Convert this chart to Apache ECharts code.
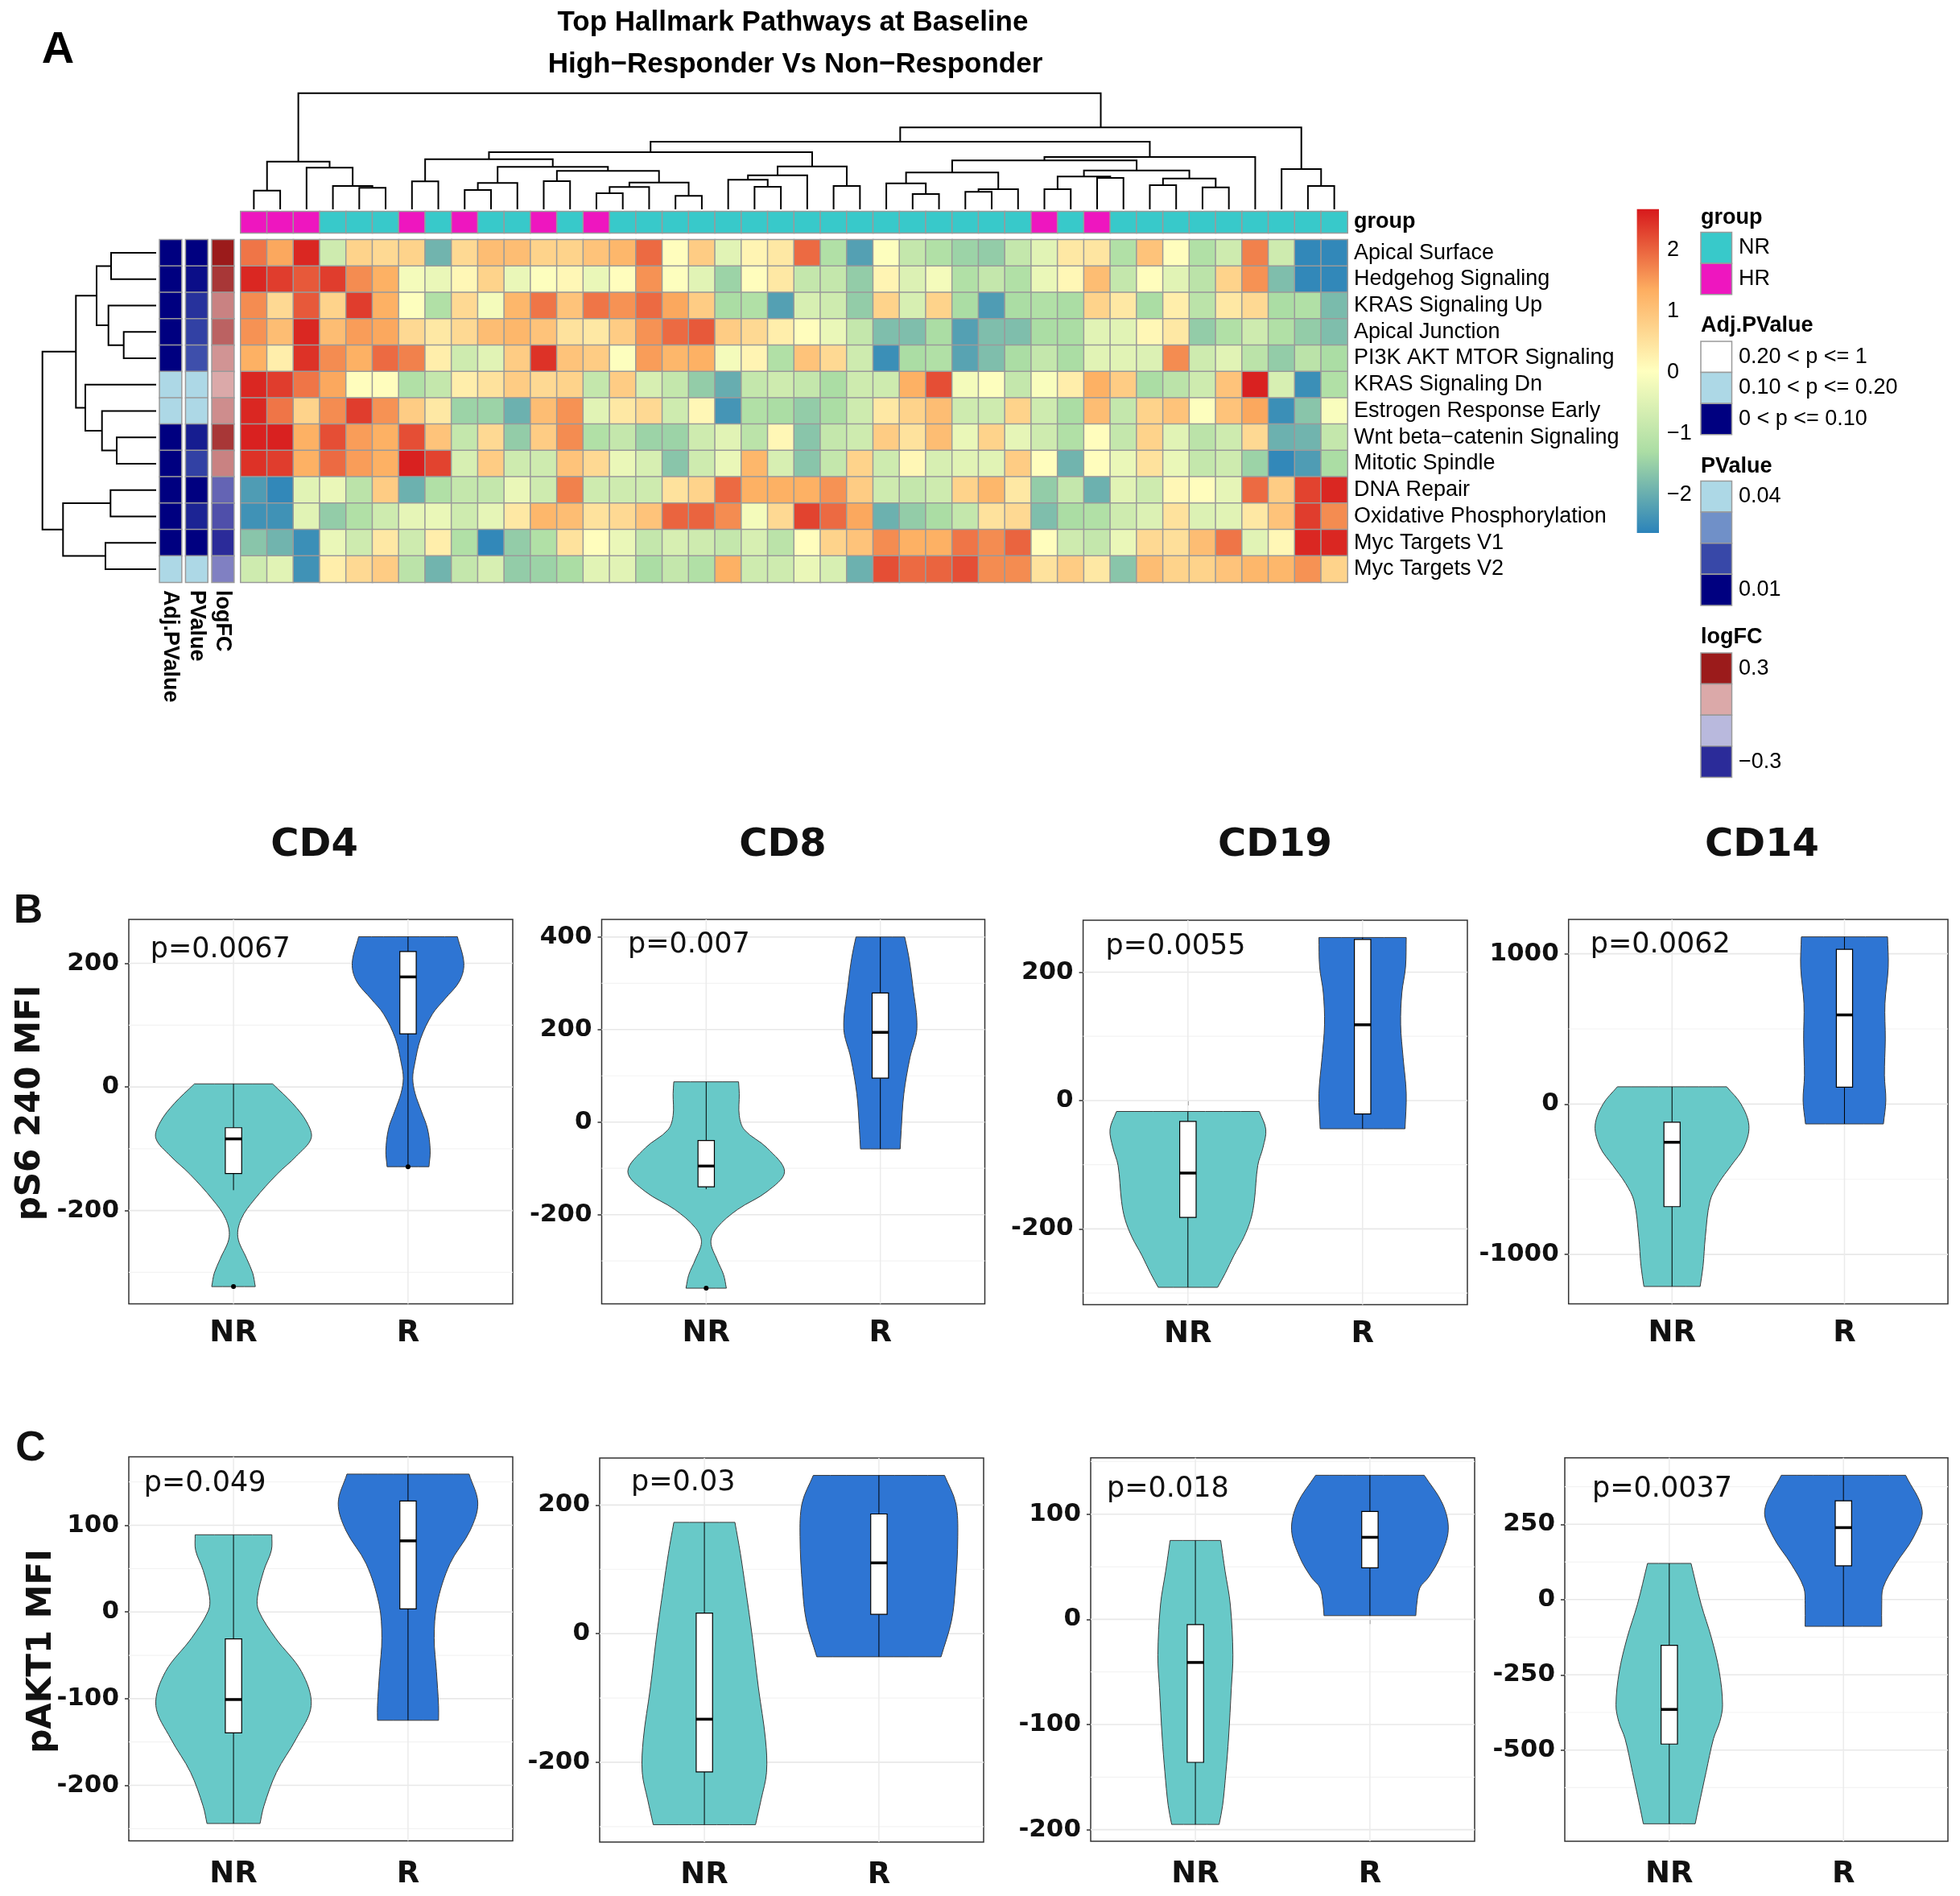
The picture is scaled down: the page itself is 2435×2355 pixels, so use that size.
<!DOCTYPE html>
<html><head><meta charset="utf-8">
<style>html,body{margin:0;padding:0;background:#fff}#c{width:2435px;height:2355px}</style>
<script src="https://cdn.jsdelivr.net/npm/echarts@6/dist/echarts.min.js"></script>
</head><body><div id="c"></div>
<script>
// ---------------- DATA ----------------
const pathways = ['Apical Surface','Hedgehog Signaling','KRAS Signaling Up','Apical Junction','PI3K AKT MTOR Signaling','KRAS Signaling Dn','Estrogen Response Early','Wnt beta\u2212catenin Signaling','Mitotic Spindle','DNA Repair','Oxidative Phosphorylation','Myc Targets V1','Myc Targets V2'];
const sampleIds = Array.from({length:42},(_,i)=>'S'+(i+1));
const sampleGroups = ['HR','HR','HR','NR','NR','NR','HR','NR','HR','NR','NR','HR','NR','HR',
 'NR','NR','NR','NR','NR','NR','NR','NR','NR','NR','NR','NR','NR','NR','NR','NR',
 'HR','NR','HR','NR','NR','NR','NR','NR','NR','NR','NR','NR'];
const scores = [
 [1.85,1.4,2.55,-0.75,0.75,0.65,0.75,-1.9,0.65,1.1,1.1,0.75,0.75,1.0, 1.2,1.95,0.05,0.85,-0.45,0.2,0.4,1.95,-1.2,-2.2,0.0,-0.9,-1.2,-1.45, -1.55,-0.9,-0.45,0.4,0.45,-1.2,1.0,0.05,-1.2,-0.75,1.75,-0.75,-2.55,-2.55],
 [2.55,2.35,2.1,2.35,1.65,1.3,-0.15,-0.3,0.15,0.75,-0.3,0.0,0.15,-0.3, 0.05,1.6,0.0,-0.45,-1.45,0.05,0.4,-0.9,-0.9,-1.55,0.2,-0.52,-0.15,-1.2, -0.9,-1.2,-0.3,0.15,1.1,-0.9,0.05,-0.45,-1.05,0.75,1.6,-1.75,-2.55,-2.55],
 [1.65,0.65,2.1,0.75,2.35,1.3,0.0,-1.2,0.65,-0.15,1.2,1.85,1.0,1.85, 1.6,1.95,1.4,0.85,-1.3,-1.2,-2.2,-0.6,-0.75,-1.55,0.75,-0.6,0.75,-1.3, -2.25,-1.3,-1.2,-1.3,0.75,0.4,-1.3,0.3,-1.05,0.4,0.65,-1.3,-1.2,-1.8],
 [1.6,1.1,2.55,1.1,1.5,1.4,0.65,0.4,0.65,1.1,1.2,1.0,0.5,0.4, 0.85,1.6,1.95,2.1,0.85,0.65,0.3,0.05,-0.3,-0.9,-1.75,-1.75,-1.3,-2.2, -1.75,-1.75,-1.3,-1.3,-0.45,-0.45,0.15,0.4,-1.55,-1.2,-0.75,-1.2,-1.55,-1.75],
 [1.3,0.3,2.45,1.65,1.3,1.95,1.75,0.3,-0.75,-0.45,0.85,2.45,1.0,0.85, 0.0,1.5,1.2,1.3,-0.15,0.2,-1.2,1.0,0.65,-0.75,-2.45,-1.3,-1.2,-2.15, -1.75,-1.3,-0.9,-1.3,-0.45,-0.45,-0.52,1.65,-0.75,-0.45,-1.05,-1.55,-1.05,-1.3],
 [2.55,2.35,1.85,1.4,0.05,0.05,-1.2,-0.9,0.3,0.5,0.85,0.65,0.75,-0.9, 0.85,-0.6,-0.9,-1.55,-2.0,-0.9,-0.75,-0.9,-1.3,-0.75,-0.75,1.3,2.2,-0.15, 0.0,-0.9,-0.07,0.3,1.3,0.85,-1.3,-1.05,-0.75,1.0,2.6,-0.6,-2.45,-1.2],
 [2.55,1.85,0.75,1.65,2.35,1.6,0.85,0.4,-1.45,-1.45,-1.95,1.1,1.6,-0.45, 0.4,0.65,-0.75,0.15,-2.35,-1.2,-1.3,-1.55,-1.3,-0.75,0.4,0.75,1.1,-0.75, -0.75,0.75,-0.75,-1.3,1.1,-0.9,0.75,1.0,0.0,1.0,1.4,-2.45,-1.65,-0.07],
 [2.6,2.6,1.3,2.2,1.5,1.3,2.2,1.0,-0.9,0.65,-1.55,0.85,1.65,-1.2, -0.9,-1.45,-1.45,-0.75,-0.45,-1.05,0.15,-1.65,-0.9,-0.75,0.85,0.5,1.1,-0.3, 0.75,-0.37,-0.75,-1.2,0.05,-0.9,0.75,-0.45,-1.05,-0.75,0.65,-1.95,-1.9,-0.9],
 [2.45,2.35,1.3,1.95,1.5,1.3,2.6,2.3,-0.6,0.85,-0.75,-0.75,1.0,0.65, -0.3,-0.6,-1.65,-0.75,-0.3,1.2,-0.6,-1.65,-0.9,0.75,-0.75,0.15,-0.6,-0.45, -0.45,0.85,0.05,-1.9,0.05,-0.3,0.5,-0.3,-0.9,-0.75,-1.45,-2.55,-2.25,-1.3],
 [-2.25,-2.55,-0.45,-0.3,-1.05,0.85,-1.95,-1.2,-0.9,-0.9,-0.3,-0.75,1.75,-0.75, -0.75,-0.75,0.5,0.75,1.95,1.3,1.3,1.3,1.6,0.85,-0.75,-0.9,-0.75,0.75, 1.2,0.4,-1.55,-0.9,-1.95,-0.45,-0.75,0.15,0.05,-0.37,1.95,0.85,2.3,2.55],
 [-2.4,-2.4,-0.45,-1.55,-1.2,-0.75,-0.37,-0.3,-0.75,-0.37,0.4,1.2,1.1,0.5, 0.65,1.0,2.0,2.0,1.65,-0.15,0.65,2.3,1.95,1.4,-1.95,-1.55,-1.3,-0.9, 0.5,0.65,-1.75,-1.3,-1.2,-0.75,-0.52,0.5,-0.52,-0.45,0.4,1.0,2.35,1.65],
 [-1.65,-1.9,-2.45,-0.3,-0.75,0.4,-0.75,0.3,-1.2,-2.55,-1.55,-1.2,0.5,0.05, -0.3,-0.9,-0.6,-0.75,-0.9,-0.6,-1.05,0.05,0.75,1.0,1.65,1.3,1.3,1.85, 1.65,2.0,0.05,-0.75,-0.9,-0.3,0.65,0.55,1.1,1.85,-0.45,0.15,2.55,2.55],
 [-0.75,-0.45,-2.4,0.3,0.65,0.85,-1.05,-1.9,-0.9,-0.6,-1.55,-1.45,-1.3,-0.45, -0.45,-1.3,-0.9,-1.2,1.3,-0.75,-0.75,-0.3,-0.6,-1.95,2.2,1.95,2.0,2.2, 1.65,1.65,0.5,0.85,0.4,-1.65,1.1,0.75,0.75,1.0,1.2,1.2,1.6,0.75]
];
const adjPValues = [0.08,0.08,0.09,0.09,0.09,0.14,0.13,0.09,0.09,0.07,0.09,0.07,0.15];
const pValues = [0.009,0.012,0.017,0.019,0.021,0.05,0.048,0.014,0.019,0.009,0.015,0.009,0.05];
const logFC = [0.3,0.26,0.155,0.2,0.13,0.1,0.14,0.26,0.155,-0.22,-0.25,-0.3,-0.18];
const annotNames = ['Adj.PValue','PValue','logFC'];
// column dendrogram merges: negative = leaf (1-based), positive = earlier merge (1-based), height
const colMerges = [
 [-1,-2,23.3],[-5,-6,26.7],[-4,2,29],[-3,3,51.7],[1,4,59.3],
 [-7,-8,34.7],[-9,-10,24],[7,-11,32.7],[-12,-13,35],[-14,-15,20],
 [10,-16,27.7],[-17,-18,16.7],[11,12,33.3],[9,13,47.7],[8,14,52.7],
 [6,15,62.3],[-20,-21,28],[-19,17,36.7],[18,-22,42.3],[-23,-24,29],
 [19,20,53.3],[16,21,71],[-26,-27,19],[-25,23,32.3],[-28,-29,21.7],
 [25,-30,25],[24,26,45.7],[-31,-32,25],[-33,-34,39],[28,29,40.7],
 [-35,-36,30],[-37,-38,27.3],[31,32,38.3],[30,33,48.3],[27,34,60.7],
 [35,-39,65],[22,36,84],[-41,-42,29],[-40,38,50],[37,39,101.7],[5,40,144.3]
];
const rowMerges = [
 [-1,-2,56],[-4,-5,40.3],[-3,2,59.3],[1,3,74],[-8,-9,49],[-7,5,67.3],
 [-6,6,88],[4,7,99.7],[-10,-11,56.7],[-12,-13,63],[9,10,115.7],[8,11,141.3]
];
const colorbarTicks = [2,1,0,-1,-2];

// violin panels
const panelTitles = ['CD4','CD8','CD19','CD14'];
const xCategories = ['NR','R'];
const pTextB = ['p=0.0067','p=0.007','p=0.0055','p=0.0062'];
const pTextC = ['p=0.049','p=0.03','p=0.018','p=0.0037'];
const rangeB = [[-351,271],[-393,438],[-318,281],[-1329,1228]];
const ticksB = [[-200,0,200],[-200,0,200,400],[-200,0,200],[-1000,0,1000]];
const minorB = [[-300,-100,100],[-300,-100,100,300],[-300,-100,100],[-500,500]];
const rangeC = [[-264,179],[-324,273],[-211,153.6],[-803,471]];
const ticksC = [[-200,-100,0,100],[-200,0,200],[-200,-100,0,100],[-500,-250,0,250]];
const minorC = [[-250,-150,-50,50,150],[-300,-100,100],[-150,-50,50,150],[-625,-375,-125,125,375]];
// violin outlines: [value, half-width in category units], top to bottom
const violinB_NR = [
 [[5,0.224],[-27,0.34],[-57,0.42],[-83,0.445],[-112,0.36],[-141,0.25],[-182,0.12],[-213,0.045],[-243,0.025],[-278,0.076],[-301,0.11],[-323,0.125]],
 [[87,0.186],[61,0.19],[14,0.19],[-17,0.22],[-56,0.35],[-107,0.45],[-150,0.35],[-189,0.18],[-228,0.063],[-259,0.027],[-298,0.063],[-330,0.1],[-359,0.116]],
 [[-17,0.409],[-45,0.446],[-73,0.43],[-101,0.4],[-157,0.38],[-185,0.36],[-213,0.32],[-241,0.264],[-269,0.214],[-291,0.17]],
 [[115,0.317],[0,0.4],[-144,0.446],[-287,0.417],[-407,0.344],[-526,0.27],[-646,0.22],[-885,0.193],[-1077,0.18],[-1213,0.163]]
];
const violinB_R = [
 [[243,0.283],[200,0.32],[171,0.295],[142,0.21],[118,0.14],[78,0.072],[37,0.038],[14,0.027],[-10,0.04],[-39,0.076],[-68,0.112],[-103,0.127],[-129,0.12]],
 [[400,0.14],[358,0.163],[295,0.186],[202,0.21],[139,0.17],[61,0.135],[-17,0.12],[-58,0.114]],
 [[254,0.25],[208,0.246],[168,0.225],[118,0.218],[67,0.232],[11,0.25],[-44,0.243]],
 [[1112,0.25],[909,0.254],[670,0.235],[431,0.237],[191,0.232],[24,0.24],[-132,0.226]]
];
const violinC_NR = [
 [[89,0.22],[71,0.217],[48,0.174],[17,0.137],[1,0.145],[-30,0.24],[-69,0.39],[-108,0.445],[-146,0.36],[-185,0.246],[-224,0.174],[-244,0.152]],
 [[173,0.175],[125,0.206],[72,0.235],[-6,0.275],[-85,0.31],[-164,0.35],[-216,0.356],[-258,0.325],[-297,0.293]],
 [[75,0.145],[46,0.17],[14,0.2],[-34,0.215],[-65,0.206],[-113,0.19],[-145,0.175],[-177,0.156],[-195,0.136]],
 [[120,0.125],[-16,0.183],[-127,0.242],[-239,0.287],[-350,0.306],[-406,0.29],[-462,0.254],[-574,0.211],[-685,0.17],[-745,0.149]]
];
const violinC_R = [
 [[159,0.35],[125.5,0.4],[94,0.356],[55.6,0.24],[9,0.166],[-30,0.15],[-69,0.163],[-108,0.175],[-125,0.175]],
 [[246,0.376],[203,0.44],[151,0.452],[72,0.438],[20,0.416],[-36,0.356]],
 [[137,0.311],[110,0.416],[85,0.449],[59,0.402],[40,0.336],[30,0.286],[14,0.268],[3.5,0.263]],
 [[413,0.357],[297,0.452],[208,0.403],[118,0.3],[40,0.228],[-16,0.22],[-89,0.22]]
];
// box stats: [lower whisker, q1, median, q3, upper whisker]
const boxB_NR = [[-167,-140,-84,-66,5],[-145,-140,-95,-40,87],[-291,-182,-113,-32.5,-17],[-1213,-682,-254,-120,115]];
const boxB_R = [[-129,86,178,219,243],[-58,95,194,279,400],[-44,-21,118,251,254],[-132,112,593,1029,1112]];
const boxC_NR = [[-244,-139.5,-101,-31,89],[-297,-215,-133,32,173],[-195,-136,-41,-5,75],[-745,-480,-365,-152,120]];
const boxC_R = [[-125,3.5,82,128,159],[-36,30,110,186,246],[3.5,49,78,102.6,137],[-89,112,239,328,413]];
const outB_NR = [[-323],[-359],[],[]];
const outB_R = [[-129],[],[],[]];
const outC_NR = [[],[],[],[]];
const outC_R = [[],[],[],[]];

// ---------------- STYLE / LAYOUT ----------------
const FONT = '"Liberation Sans", Arial, Helvetica, sans-serif';
const VFONT = '"DejaVu Sans", sans-serif';
const SPECTRAL = ['#2B83BA','#ABDDA4','#FFFFBF','#FDAE61','#D7191C'];
const HEAT_MIN = -2.62, HEAT_MAX = 2.67;
const NR_COLOR = '#38C9CA', HR_COLOR = '#EE16BF';
const NR_FILL = '#68C9C8', R_FILL = '#2E75D3';
const CELL_BORDER = '#9a9a9a';

const grids = [], xAxes = [], yAxes = [], series = [], visualMaps = [], graphics = [];
function addGrid(l,t,w,h,extra){ grids.push(Object.assign({left:l,top:t,width:w,height:h}, extra||{})); return grids.length-1; }
function txt(x, y, text, font, opts){
  opts = opts || {};
  const el = {type:'text', x:x, y:y, z:100, style:{text:text, font:font, fill:opts.fill||'#000',
    textAlign:opts.align||'left', align:opts.align||'left', textVerticalAlign:'middle', verticalAlign:'middle'}};
  if (opts.rotation) el.rotation = opts.rotation;
  graphics.push(el);
}

// main heatmap
let gi = addGrid(299,297.7,1375,425.6);
xAxes.push({type:'category', gridIndex:gi, data:sampleIds, show:false});
yAxes.push({type:'category', gridIndex:gi, data:pathways, inverse:true, position:'right',
  axisLine:{show:false}, axisTick:{show:false},
  axisLabel:{interval:0, fontSize:27, fontFamily:FONT, color:'#000', margin:8}});
const heatData = [];
scores.forEach((row,r)=>row.forEach((v,c)=>heatData.push([c,r,v])));
series.push({type:'heatmap', xAxisIndex:gi, yAxisIndex:gi, data:heatData, silent:true,
  itemStyle:{borderColor:CELL_BORDER, borderWidth:1.5}, emphasis:{disabled:true}});
visualMaps.push({type:'continuous', show:false, seriesIndex:series.length-1, dimension:2,
  min:HEAT_MIN, max:HEAT_MAX, inRange:{color:SPECTRAL}});

// group bar
gi = addGrid(299,262.7,1375,26.6);
xAxes.push({type:'category', gridIndex:gi, data:sampleIds, show:false});
yAxes.push({type:'category', gridIndex:gi, data:['group'], position:'right',
  axisLine:{show:false}, axisTick:{show:false},
  axisLabel:{interval:0, fontSize:27, fontFamily:FONT, fontWeight:'bold', color:'#000', margin:8}});
series.push({type:'heatmap', xAxisIndex:gi, yAxisIndex:gi, silent:true,
  data: sampleGroups.map((g,c)=>[c,0,g==='HR'?1:0]),
  itemStyle:{borderColor:CELL_BORDER, borderWidth:1.5}, emphasis:{disabled:true}});
visualMaps.push({type:'piecewise', show:false, seriesIndex:series.length-1, dimension:2,
  pieces:[{value:0,color:NR_COLOR},{value:1,color:HR_COLOR}]});

// row annotations
const annotLefts = [198.3,230.7,263.3];
const annotValues = [adjPValues, pValues, logFC];
annotNames.forEach((nm,k)=>{
  const g = addGrid(annotLefts[k],297.7,27.3,425.6);
  xAxes.push({type:'category', gridIndex:g, data:[nm], show:false});
  yAxes.push({type:'category', gridIndex:g, data:pathways, inverse:true, show:false});
  series.push({type:'heatmap', xAxisIndex:g, yAxisIndex:g, silent:true,
    data: annotValues[k].map((v,r)=>[0,r,v]),
    itemStyle:{borderColor:CELL_BORDER, borderWidth:1.5}, emphasis:{disabled:true}});
  txt(annotLefts[k]+13.6, 733, nm, 'bold 27px '+FONT, {align:'left', rotation:-Math.PI/2});
});
visualMaps.push({type:'piecewise', show:false, seriesIndex:series.length-3, dimension:2,
  pieces:[{gt:0.2,lte:1,color:'#FFFFFF'},{gt:0.1,lte:0.2,color:'#ADD8E6'},{gt:0,lte:0.1,color:'#000080'}]});
visualMaps.push({type:'continuous', show:false, seriesIndex:series.length-2, dimension:2,
  min:0.01, max:0.04, inRange:{color:['#000080','#3848A8','#7090C8','#ADD8E6']}});
visualMaps.push({type:'continuous', show:false, seriesIndex:series.length-1, dimension:2,
  min:-0.3, max:0.3, inRange:{color:['#2B2B99','#B9B9DD','#DBA9A9','#9B1B1B']}});

// dendrograms
function nodeTable(merges){
  const pos = [], hts = [];
  const get = ref => ref < 0 ? {p:-ref-1+0.5, h:0} : {p:pos[ref-1], h:hts[ref-1]};
  merges.forEach((m,i)=>{ const a=get(m[0]), b=get(m[1]); pos[i]=(a.p+b.p)/2; hts[i]=m[2]; });
  return get;
}
function dendroSeries(g, merges, orient){
  const get = nodeTable(merges);
  return {type:'custom', xAxisIndex:g, yAxisIndex:g, silent:true, clip:false,
    data: merges.map((m,i)=>[i]),
    renderItem:(params, api)=>{
      const m = merges[params.dataIndex];
      const a = get(m[0]), b = get(m[1]), h = m[2];
      const P = (p,hh)=> orient==='col' ? api.coord([p,hh]) : api.coord([hh,p]);
      return {type:'polyline', shape:{points:[P(a.p,a.h),P(a.p,h),P(b.p,h),P(b.p,b.h)]},
        style:{stroke:'#000', lineWidth:2, fill:null}};
    }};
}
gi = addGrid(299,115.7,1375,144.3);
xAxes.push({type:'value', gridIndex:gi, min:0, max:sampleIds.length, show:false});
yAxes.push({type:'value', gridIndex:gi, min:0, max:colMerges[colMerges.length-1][2], show:false});
series.push(dendroSeries(gi, colMerges, 'col'));
gi = addGrid(52.7,297.7,141.3,425.6);
xAxes.push({type:'value', gridIndex:gi, min:0, max:rowMerges[rowMerges.length-1][2], inverse:true, show:false});
yAxes.push({type:'value', gridIndex:gi, min:0, max:pathways.length, inverse:true, show:false});
series.push(dendroSeries(gi, rowMerges, 'row'));

// colorbar legend
const cb = {x:2033.6, y:259.8, w:27.4, h:402.2};
graphics.push({type:'rect', z:100, shape:{x:cb.x,y:cb.y,width:cb.w,height:cb.h},
  style:{fill:{type:'linear',x:0,y:0,x2:0,y2:1,colorStops:SPECTRAL.slice().reverse().map((c,i)=>({offset:i/(SPECTRAL.length-1),color:c}))}}});
colorbarTicks.forEach(v=>{
  const y = cb.y + (HEAT_MAX - v)/(HEAT_MAX-HEAT_MIN)*cb.h;
  txt(2071, y, (v<0?'\u2212'+(-v):String(v)), '27px '+FONT);
});
// discrete legends
const LX = 2113, BW = 38.5, BH = 38.6;
function legendBlock(title, titleY, boxTop, colors, labels){
  txt(LX, titleY, title, 'bold 27px '+FONT);
  colors.forEach((c,i)=>{
    graphics.push({type:'rect', z:100, shape:{x:LX,y:boxTop+i*BH,width:BW,height:BH}, style:{fill:c, stroke:CELL_BORDER, lineWidth:1.5}});
    if (labels[i]) txt(LX+BW+8.5, boxTop+i*BH+BH/2, labels[i], '27px '+FONT);
  });
}
legendBlock('group', 270.7, 288.6, [NR_COLOR, HR_COLOR], ['NR','HR']);
legendBlock('Adj.PValue', 405, 424, ['#FFFFFF','#ADD8E6','#000080'], ['0.20 < p <= 1','0.10 < p <= 0.20','0 < p <= 0.10']);
legendBlock('PValue', 579.6, 597.5, ['#ADD8E6','#7090C8','#3848A8','#000080'], ['0.04','','','0.01']);
legendBlock('logFC', 792, 811, ['#9B1B1B','#DBA9A9','#B9B9DD','#2B2B99'], ['0.3','','','\u22120.3']);

// titles
txt(985, 28, 'Top Hallmark Pathways at Baseline', 'bold 35px '+FONT, {align:'center'});
txt(988, 80, 'High\u2212Responder Vs Non\u2212Responder', 'bold 35px '+FONT, {align:'center'});
txt(72, 63, 'A', 'bold 56px '+FONT, {align:'center'});

// violin panels
const rectsB = [[160,1142,477,477.6],[747.5,1142,476,477.6],[1345.6,1142.9,477.4,477.6],[1948.7,1142,471.3,477.6]];
const rectsC = [[160,1809.4,477,477.1],[745,1811,477,477],[1355,1810.7,477,476.3],[1944,1810.7,476,476.3]];
const pPosB = [[186.7,1180],[780,1174],[1373.5,1176],[1975.8,1174]];
const pPosC = [[178.8,1843],[784,1842],[1375,1850],[1978,1850]];
const titleX = [390.6,972.5,1584,2189];

function addViolinPanel(rect, range, ticks, minor, profNR, profR, boxNR, boxR, outNR, outR, pText, pPos, labelMargin){
  const g = addGrid(rect[0],rect[1],rect[2],rect[3],{show:true, borderColor:'#333', borderWidth:1.5, backgroundColor:'#fff'});
  xAxes.push({type:'value', gridIndex:g, min:0.4, max:2.6,
    axisLine:{show:false}, splitLine:{show:false},
    axisTick:{show:true, customValues:[1,2], length:6, lineStyle:{color:'#333', width:1.5}},
    axisLabel:{customValues:[1,2], formatter:v=>xCategories[Math.round(v)-1]||'', fontFamily:VFONT, fontWeight:'bold', fontSize:37, color:'#111', margin:labelMargin}});
  yAxes.push({type:'value', gridIndex:g, min:range[0], max:range[1],
    axisLine:{show:false}, splitLine:{show:false},
    axisTick:{show:true, customValues:ticks, length:5, lineStyle:{color:'#333', width:1.5}},
    axisLabel:{customValues:ticks, formatter:v=>String(v), fontFamily:VFONT, fontWeight:'bold', fontSize:31, color:'#111', margin:12}});
  const gl = [];
  ticks.forEach(v=>gl.push([v,0])); minor.forEach(v=>gl.push([v,1])); [1,2].forEach(v=>gl.push([v,2]));
  series.push({type:'custom', xAxisIndex:g, yAxisIndex:g, silent:true, z:1, data:gl,
    renderItem:(params, api)=>{
      const cs = params.coordSys; const v = api.value(0), t = api.value(1);
      if (t===2){ const x = api.coord([v, range[0]])[0];
        return {type:'line', shape:{x1:x,y1:cs.y,x2:x,y2:cs.y+cs.height}, style:{stroke:'#EBEBEB', lineWidth:1.5}}; }
      const y = api.coord([1, v])[1];
      return {type:'line', shape:{x1:cs.x,y1:y,x2:cs.x+cs.width,y2:y}, style:{stroke:t===0?'#E8E8E8':'#F3F3F3', lineWidth:t===0?1.6:1.2}};
    }});
  series.push({type:'custom', xAxisIndex:g, yAxisIndex:g, silent:true, z:2, data:[[1,0],[2,1]],
    renderItem:(params, api)=>{
      const xc = api.value(0), k = api.value(1);
      const prof = k===0?profNR:profR, box = k===0?boxNR:boxR, outs = k===0?outNR:outR;
      const right = prof.map(p=>api.coord([xc+p[1], p[0]]));
      const left = prof.map(p=>api.coord([xc-p[1], p[0]])).reverse();
      const pts = [];
      right.forEach((p,i)=>{ pts.push(p); if(i===0||i===right.length-1) pts.push(p.slice()); });
      left.forEach((p,i)=>{ pts.push(p); if(i===0||i===left.length-1) pts.push(p.slice()); });
      const bw = 0.047;
      const tl = api.coord([xc-bw, box[3]]), br = api.coord([xc+bw, box[1]]);
      const wlo = api.coord([xc, box[0]]), whi = api.coord([xc, box[4]]);
      const ml = api.coord([xc-bw, box[2]]), mr = api.coord([xc+bw, box[2]]);
      const children = [
        {type:'polygon', shape:{points:pts, smooth:0.35}, style:{fill:k===0?NR_FILL:R_FILL, stroke:'#3a3a3a', lineWidth:1}},
        {type:'line', shape:{x1:wlo[0],y1:wlo[1],x2:whi[0],y2:whi[1]}, style:{stroke:'#000', lineWidth:1}},
        {type:'rect', shape:{x:tl[0],y:tl[1],width:br[0]-tl[0],height:br[1]-tl[1]}, style:{fill:'#fff', stroke:'#000', lineWidth:1.2}},
        {type:'line', shape:{x1:ml[0],y1:ml[1],x2:mr[0],y2:mr[1]}, style:{stroke:'#000', lineWidth:3.5}}
      ];
      outs.forEach(o=>{ const c = api.coord([xc,o]); children.push({type:'circle', shape:{cx:c[0],cy:c[1],r:3}, style:{fill:'#000'}}); });
      return {type:'group', children};
    }});
  txt(pPos[0], pPos[1], pText, '35px '+VFONT, {fill:'#111'});
}
for (let i=0;i<4;i++){
  addViolinPanel(rectsB[i], rangeB[i], ticksB[i], minorB[i], violinB_NR[i], violinB_R[i], boxB_NR[i], boxB_R[i], outB_NR[i], outB_R[i], pTextB[i], pPosB[i], 18);
  addViolinPanel(rectsC[i], rangeC[i], ticksC[i], minorC[i], violinC_NR[i], violinC_R[i], boxC_NR[i], boxC_R[i], outC_NR[i], outC_R[i], pTextC[i], pPosC[i], 23);
  txt(titleX[i], 1051, panelTitles[i], 'bold 48px '+VFONT, {align:'center', fill:'#111'});
}
txt(35, 1132, 'B', 'bold 50px '+FONT, {align:'center', fill:'#111'});
txt(38, 1800, 'C', 'bold 52px '+FONT, {align:'center', fill:'#111'});
txt(38, 1370, 'pS6 240 MFI', 'bold 42px '+VFONT, {align:'center', fill:'#111', rotation:Math.PI/2});
txt(52, 2051, 'pAKT1 MFI', 'bold 42px '+VFONT, {align:'center', fill:'#111', rotation:Math.PI/2});

const chart = echarts.init(document.getElementById('c'), null, {width:2435, height:2355});
chart.setOption({
  backgroundColor:'#fff', animation:false,
  grid:grids, xAxis:xAxes, yAxis:yAxes, visualMap:visualMaps, series:series,
  graphic:{elements:graphics}
});
</script></body></html>
